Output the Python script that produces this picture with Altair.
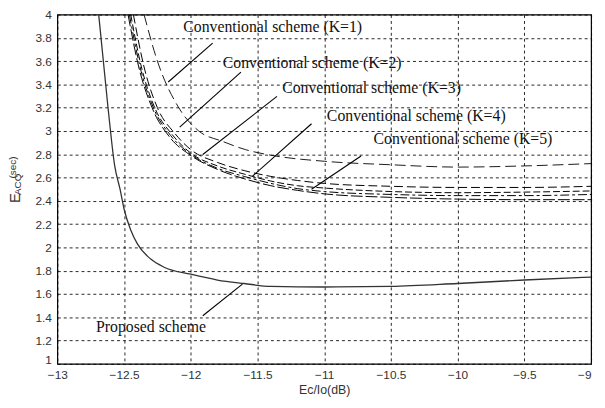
import altair as alt
import pandas as pd

# ---- data ----
prop_x = [-12.69, -12.62, -12.57, -12.53, -12.5, -12.45, -12.4, -12.3, -12.2, -12.0, -11.8, -11.6, -11.4, -11.0, -10.5, -10.0, -9.5, -9.0]
prop_y = [4.0, 3.2, 2.7, 2.5, 2.33, 2.15, 2.03, 1.9, 1.83, 1.77, 1.72, 1.69, 1.665, 1.66, 1.665, 1.69, 1.72, 1.745]

k1_x = [-12.35, -12.25, -12.09, -11.94, -11.76, -11.59, -11.39, -11.0, -10.5, -10.0, -9.5, -9.0]
k1_y = [4.0, 3.6, 3.2, 3.0, 2.91, 2.84, 2.79, 2.74, 2.71, 2.69, 2.70, 2.72]

k2_x = [-12.43, -12.35, -12.25, -12.12, -12.0, -11.8, -11.6, -11.4, -11.2, -11.0, -10.5, -10.0, -9.5, -9.0]
k2_y = [4.0, 3.55, 3.2, 2.98, 2.84, 2.73, 2.66, 2.61, 2.575, 2.55, 2.525, 2.515, 2.515, 2.525]

k3_x = [-12.45, -12.37, -12.27, -12.14, -12.0, -11.8, -11.6, -11.4, -11.2, -11.0, -10.5, -10.0, -9.5, -9.0]
k3_y = [4.0, 3.55, 3.2, 2.97, 2.81, 2.70, 2.63, 2.57, 2.53, 2.51, 2.48, 2.47, 2.475, 2.485]

k4_x = [-12.46, -12.38, -12.28, -12.15, -12.0, -11.8, -11.6, -11.4, -11.2, -11.0, -10.5, -10.0, -9.5, -9.0]
k4_y = [4.0, 3.55, 3.2, 2.96, 2.80, 2.68, 2.61, 2.55, 2.505, 2.48, 2.455, 2.445, 2.445, 2.455]

k5_x = [-12.47, -12.39, -12.29, -12.16, -12.0, -11.8, -11.6, -11.4, -11.2, -11.0, -10.5, -10.0, -9.5, -9.0]
k5_y = [4.0, 3.55, 3.2, 2.95, 2.79, 2.67, 2.59, 2.53, 2.49, 2.46, 2.43, 2.415, 2.41, 2.41]

label_text = ["Conventional scheme (K=1)", "Conventional scheme (K=2)", "Conventional scheme (K=3)",
              "Conventional scheme (K=4)", "Conventional scheme (K=5)", "Proposed scheme"]
label_x = [-12.056, -11.76, -11.315, -10.98, -10.63, -12.71]
label_y = [3.89, 3.585, 3.37, 3.13, 2.93, 1.316]

ptr_x1 = [-11.836, -11.624, -11.354, -11.095, -10.724, -11.613]
ptr_y1 = [3.754, 3.505, 3.297, 3.062, 2.785, 1.684]
ptr_x2 = [-12.169, -12.083, -11.910, -11.539, -11.095, -11.910]
ptr_y2 = [3.421, 3.034, 2.798, 2.61, 2.499, 1.413]

x_ticks = [-13, -12.5, -12, -11.5, -11, -10.5, -10, -9.5, -9]
y_ticks = [1, 1.2, 1.4, 1.6, 1.8, 2, 2.2, 2.4, 2.6, 2.8, 3, 3.2, 3.4, 3.6, 3.8, 4]

SANS = "Liberation Sans"
SERIF = "Liberation Serif"

xs = alt.Scale(domain=[-13, -9], nice=False, zero=False)
ys = alt.Scale(domain=[1, 4], nice=False, zero=False)

x_axis = alt.Axis(values=x_ticks, format=".1~f", title="Ec/Io(dB)", grid=True, ticks=False,
                  labelPadding=6, titlePadding=3, labelOverlap=False, labelFlush=False,
                  labelAlign=alt.expr("datum.value == -9 ? 'right' : 'center'"))
y_axis = alt.Axis(values=y_ticks, format=".1~f", title=None, grid=True, ticks=False,
                  labelPadding=6, labelOverlap=False, labelFlush=False,
                  labelBaseline=alt.expr("datum.value == 1 ? 'alphabetic' : 'middle'"))


def curve(xv, yv, dash, width=1.0, color="black"):
    df = pd.DataFrame({"x": xv, "y": yv})
    return alt.Chart(df).mark_line(
        color=color, strokeWidth=width, clip=True, interpolate="monotone",
        **({"strokeDash": dash} if dash else {})
    ).encode(x=alt.X("x:Q", scale=xs, axis=x_axis), y=alt.Y("y:Q", scale=ys, axis=y_axis))


layers = [
    curve(prop_x, prop_y, None, 1.3, "#333333"),
    curve(k1_x, k1_y, [11, 5], 0.9),
    curve(k2_x, k2_y, [9, 4], 1.0),
    curve(k3_x, k3_y, [7, 3], 1.0),
    curve(k4_x, k4_y, [9, 3, 3, 3], 1.0),
    curve(k5_x, k5_y, [12, 3], 1.0),
]

ptr_df = pd.DataFrame({"x": ptr_x1, "y": ptr_y1, "x2": ptr_x2, "y2": ptr_y2})
pointers = alt.Chart(ptr_df).mark_rule(color="black", strokeWidth=1.1).encode(
    x=alt.X("x:Q", scale=xs, axis=x_axis), y=alt.Y("y:Q", scale=ys, axis=y_axis), x2="x2:Q", y2="y2:Q")

lab_df = pd.DataFrame({"x": label_x, "y": label_y, "t": label_text})
labels = alt.Chart(lab_df).mark_text(font=SERIF, fontSize=16, align="left", baseline="middle",
                                     color="#111111").encode(
    x=alt.X("x:Q", scale=xs, axis=x_axis), y=alt.Y("y:Q", scale=ys, axis=y_axis), text="t:N")

# y-axis title: E with subscript ACQ and raised (sec)
yt_df = pd.DataFrame({"t": ["E", "ACQ", "(sec)"], "px": [-43.0, -40.0, -45.0], "py": [186.0, 172.0, 155.0],
                      "fs": [15, 10, 10]})
ytitle = alt.Chart(yt_df).mark_text(font=SANS, angle=270, align="center", baseline="middle",
                                    color="#333333").encode(
    x=alt.X("px:Q", scale=None), y=alt.Y("py:Q", scale=None), text="t:N",
    size=alt.Size("fs:Q", scale=None, legend=None))

chart = alt.layer(*layers, pointers, labels, ytitle).properties(
    width=541, height=354,
    background="white",
    autosize=alt.AutoSizeParams(type="none"),
    padding={"left": 50, "top": 4, "right": 6, "bottom": 34},
).configure_axis(
    labelFont=SANS, labelFontSize=12, labelColor="#333333",
    titleFont=SANS, titleFontSize=12.5, titleFontWeight="normal", titleColor="#333333",
    gridColor="black", gridDash=[3, 3], gridWidth=1, gridOpacity=0.85,
    domain=False,
).configure_view(stroke="black", strokeWidth=1.2)

chart.save("out.html", embed_options={"renderer": "svg", "actions": False})
